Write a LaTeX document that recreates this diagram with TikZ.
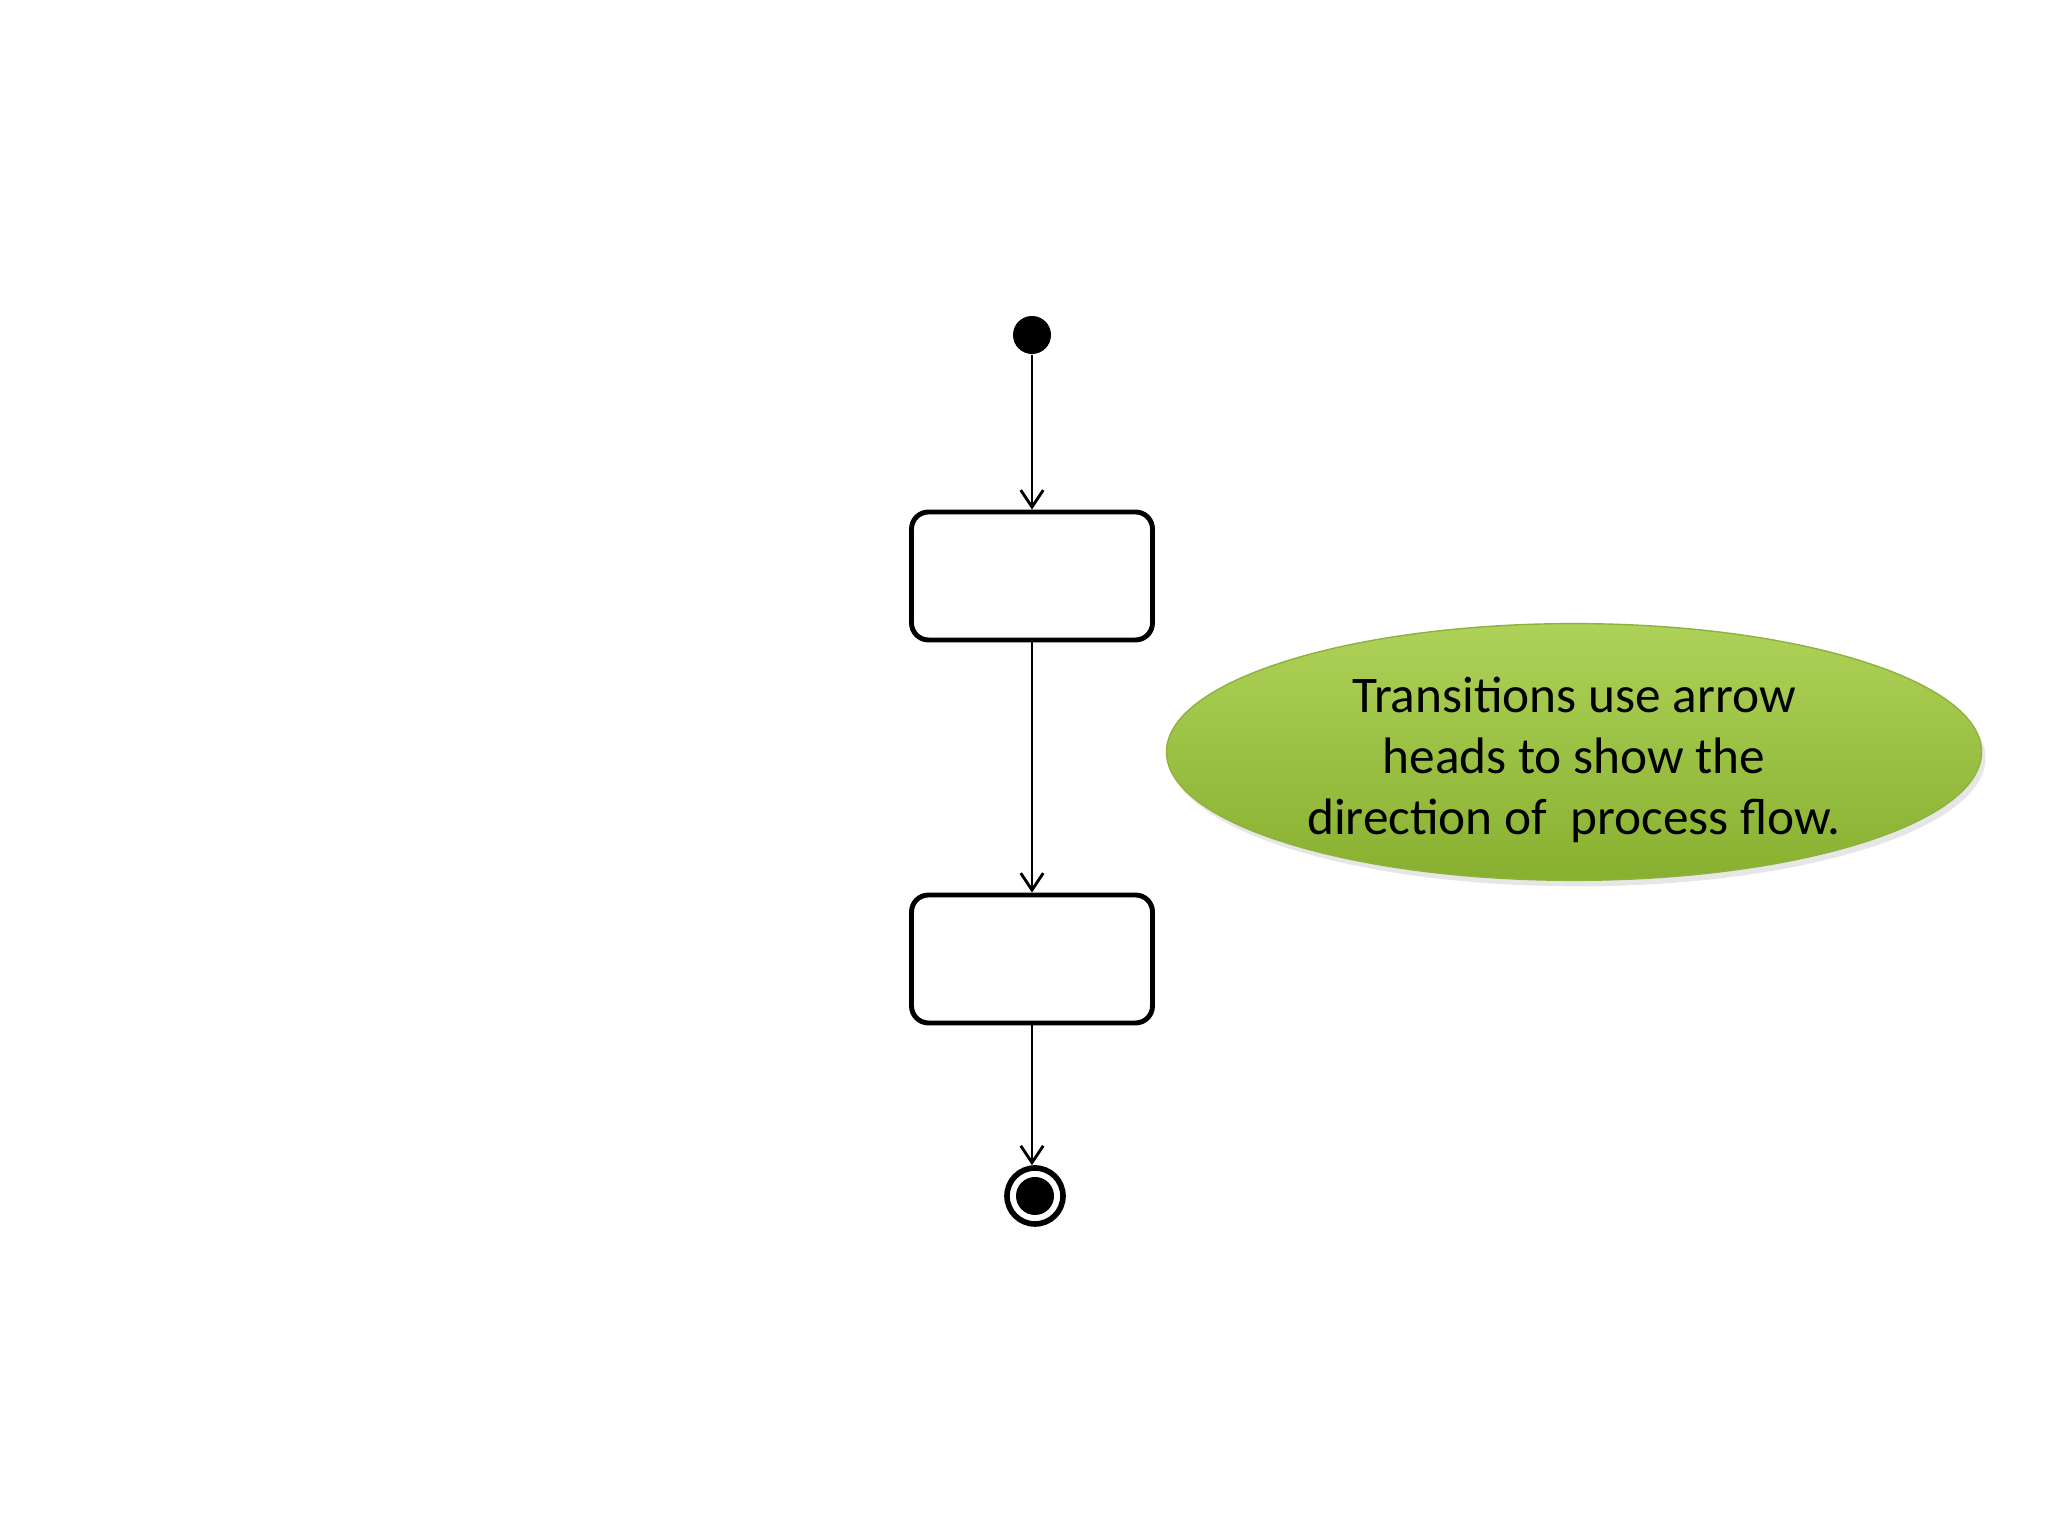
\documentclass[tikz,border=0pt]{standalone}
\usepackage{fontspec}
\setmainfont{Carlito}
\usetikzlibrary{arrows.meta,shapes.geometric,shadows}

\begin{document}
\begin{tikzpicture}[
    state/.style={draw, rounded corners=0.17cm, line width=1.4pt, minimum width=2.41cm, minimum height=1.28cm},
    trans/.style={-{Straight Barb[length=4.8pt,width=6.4pt,line width=0.8pt]}, line width=0.75pt},
  ]
            \useasboundingbox (0,0) rectangle (20.48,15.36);

            \node[circle, fill, inner sep=0pt, minimum size=0.38cm] (start) at (10.32,12.01) {};
            \node[state] (stateA) at (10.32,9.60) {};
            \node[state] (stateB) at (10.32,5.77) {};
            \node[circle, draw, line width=1.6pt, inner sep=0pt, minimum size=0.56cm] (stop) at (10.35,3.40) {};
            \node[circle, fill, inner sep=0pt, minimum size=0.38cm] (stopdot) at (stop) {};

            \node[ellipse, inner sep=0pt, minimum width=8.15cm, minimum height=2.56cm,
                  top color={rgb,255:red,174;green,210;blue,88}, middle color={rgb,255:red,160;green,199;blue,70},
                  bottom color={rgb,255:red,136;green,176;blue,48},
                  draw={rgb,255:red,142;green,178;blue,62}, line width=0.4pt,
                  drop shadow={shadow xshift=0.04cm, shadow yshift=-0.06cm, opacity=0.2},
                  align=center, font=\fontsize{14.6pt}{17.4pt}\selectfont] (note) at (15.74,7.84)
                  {\rule{0pt}{14.5pt}Transitions use arrow\\heads to show the\\direction of\ \ process flow.};

            \draw[trans] (start) -- (stateA);
            \draw[trans] (stateA) -- (stateB);
            \draw[trans] (stateB) -- (stateB |- stop.north);
        \end{tikzpicture}
\end{document}
